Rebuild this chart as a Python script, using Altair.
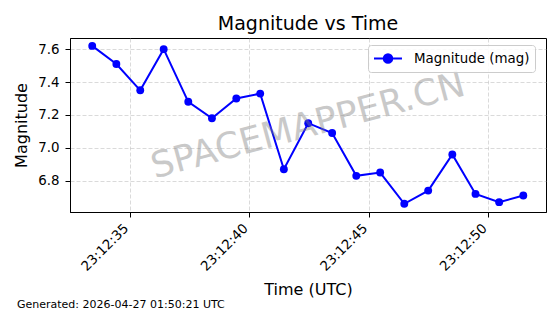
import altair as alt
import pandas as pd

# ---- data ----
times = ["23:12:33.42", "23:12:34.43", "23:12:35.43", "23:12:36.41", "23:12:37.44",
         "23:12:38.43", "23:12:39.45", "23:12:40.45", "23:12:41.44", "23:12:42.46",
         "23:12:43.46", "23:12:44.47", "23:12:45.47", "23:12:46.48", "23:12:47.48",
         "23:12:48.49", "23:12:49.46", "23:12:50.45", "23:12:51.46"]
magnitudes = [7.62, 7.51, 7.35, 7.60, 7.28, 7.18, 7.30, 7.33, 6.87, 7.15,
              7.09, 6.83, 6.85, 6.66, 6.74, 6.96, 6.72, 6.67, 6.71]
series_name = "Magnitude (mag)"
date_str = "2026-04-26"
x_tick_labels = ["23:12:35", "23:12:40", "23:12:45", "23:12:50"]
x_domain_labels = ["23:12:32.49", "23:12:52.41"]
y_ticks = [6.8, 7.0, 7.2, 7.4, 7.6]
y_domain = [6.61, 7.668]
title_text = "Magnitude vs Time"
x_title = "Time (UTC)"
y_title = "Magnitude"
watermark = "SPACEMAPPER.CN"
footer = "Generated: 2026-04-27 01:50:21 UTC"

FONT = "DejaVu Sans"


def to_ms(s):
    return int(pd.Timestamp(f"{date_str}T{s}Z").value // 1_000_000)


df = pd.DataFrame({
    "time": [f"{date_str}T{t}Z" for t in times],
    "mag": magnitudes,
    "series": [series_name] * len(times),
})

# legend glyph: a line with a dot, drawn off-centre so that the entry row stays short
legend_path = ("M-1,0L2.73,0M0.3,0A0.567,0.567,0,1,0,1.434,0"
               "A0.567,0.567,0,1,0,0.3,0Z")

color = alt.Color(
    "series:N",
    scale=alt.Scale(domain=[series_name], range=["#0000ff"]),
    legend=alt.Legend(
        title=None, orient="none", legendX=298, legendY=7,
        symbolType=legend_path, symbolSize=225, symbolStrokeWidth=2,
        symbolFillColor="#0000ff", symbolStrokeColor="#0000ff",
        labelFont=FONT, labelFontSize=13.4, labelColor="black",
        labelOffset=24, padding=5,
        fillColor="rgba(255,255,255,0.85)", strokeColor="#cccccc",
        cornerRadius=3,
    ),
)

x = alt.X(
    "time:T",
    scale=alt.Scale(type="utc", domain=[to_ms(v) for v in x_domain_labels]),
    axis=alt.Axis(
        title=x_title, values=[to_ms(v) for v in x_tick_labels],
        format="%H:%M:%S", labelAngle=-45, labelAlign="right",
        labelBaseline="top", labelOffset=-9, labelPadding=4,
        titlePadding=8,
    ),
)
y = alt.Y(
    "mag:Q",
    scale=alt.Scale(domain=y_domain, nice=False, zero=False),
    axis=alt.Axis(title=y_title, values=y_ticks, format=".1f",
                  labelPadding=6, titlePadding=8),
)

line = alt.Chart(df).mark_line(
    strokeWidth=2,
    point=alt.OverlayMarkDef(filled=True, size=62, opacity=1),
).encode(x=x, y=y, color=color)

wm = alt.Chart(pd.DataFrame({"t": [watermark]})).mark_text(
    font=FONT, fontSize=36, angle=345, align="center", baseline="middle",
    color="#808080", opacity=0.42,
).encode(text="t:N", x=alt.value(238), y=alt.value(88))

foot = alt.Chart(pd.DataFrame({"t": [footer]})).mark_text(
    font=FONT, fontSize=11, align="left", baseline="middle", color="black",
).encode(text="t:N", x=alt.value(-53), y=alt.value(267))

chart = alt.layer(line, wm, foot).properties(
    width=476, height=174,
    title=alt.TitleParams(title_text, font=FONT, fontSize=19,
                          fontWeight="normal", color="black",
                          baseline="alphabetic", offset=8, frame="group",
                          dy=19),
    autosize=alt.AutoSizeParams(type="none"),
    padding={"left": 70, "top": 38, "right": 14, "bottom": 102},
    background="white",
).configure_view(
    stroke="black", strokeWidth=1,
).configure_axis(
    domainColor="black", tickColor="black", tickSize=5,
    labelColor="black", labelFont=FONT, labelFontSize=13.4,
    titleFont=FONT, titleFontSize=16, titleFontWeight="normal",
    titleColor="black",
    grid=True, gridColor="#b0b0b0", gridOpacity=0.6, gridDash=[4, 2],
    gridWidth=0.8,
)

chart.save("out.html", embed_options={"renderer": "svg", "actions": False})
